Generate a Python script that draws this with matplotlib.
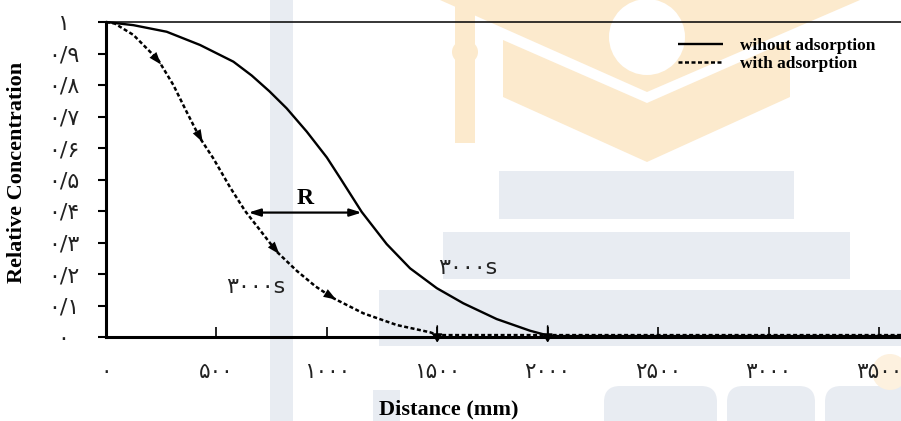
import numpy as np
import matplotlib
matplotlib.use('Agg')
import matplotlib.pyplot as plt
from matplotlib.patches import Polygon, Rectangle, Circle, Ellipse, FancyBboxPatch

# ---------------- data ----------------
x_without = [0, 124, 275, 426, 577, 660, 740, 818, 909, 1000, 1060, 1158, 1271, 1377,
             1498, 1618, 1769, 1920, 2010, 3600]
y_without = [1.0, 0.99, 0.969, 0.927, 0.874, 0.83, 0.78, 0.726, 0.652, 0.57, 0.505,
             0.397, 0.295, 0.218, 0.155, 0.107, 0.057, 0.02, 0.003, 0.003]

x_with = [0, 40, 124, 199, 237, 305, 365, 426, 486, 562, 630, 700, 773, 864, 950,
          1030, 1166, 1317, 1467, 1504, 3600]
y_with = [1.0, 0.995, 0.959, 0.906, 0.879, 0.8, 0.715, 0.631, 0.567, 0.475, 0.40,
          0.337, 0.271, 0.21, 0.16, 0.123, 0.075, 0.038, 0.015, 0.006, 0.006]

arrow_x = [237, 426, 773, 1030]          # direction arrows on the dashed curve
zero_points = [1500, 2000]               # where each front reaches zero
R_from, R_to, R_level = 645, 1158, 0.395 # retardation arrow

y_ticks = [0, 0.1, 0.2, 0.3, 0.4, 0.5, 0.6, 0.7, 0.8, 0.9, 1.0]
y_labels = ['۰', '۰/۱', '۰/۲', '۰/۳', '۰/۴', '۰/۵', '۰/۶', '۰/۷', '۰/۸', '۰/۹', '۱']
x_ticks = [0, 500, 1000, 1500, 2000, 2500, 3000, 3500]
x_labels = ['۰', '۵۰۰', '۱۰۰۰', '۱۵۰۰', '۲۰۰۰', '۲۵۰۰', '۳۰۰۰', '۳۵۰۰']

label_without = 'wihout adsorption'
label_with = 'with adsorption'
time_label = '۳۰۰۰s'

# ---------------- figure ----------------
plt.rcParams['font.family'] = ['DejaVu Sans']
W, H = 901, 421
fig = plt.figure(figsize=(W / 100, H / 100), dpi=100)
fig.patch.set_facecolor('white')

# background watermark (decorative, in pixel coordinates)
bg = fig.add_axes([0, 0, 1, 1])
bg.set_xlim(0, W)
bg.set_ylim(H, 0)
bg.axis('off')
bg.set_zorder(0)
gray = '#E8ECF2'
orange = '#FCEACD'
bg.add_patch(Rectangle((270, 0), 23, H, color=gray, lw=0))
bg.add_patch(Rectangle((499, 171), 295, 48, color=gray, lw=0))
bg.add_patch(Rectangle((443, 232), 407, 47, color=gray, lw=0))
bg.add_patch(Rectangle((379, 290), 530, 56, color=gray, lw=0))
bg.add_patch(Rectangle((373, 390), 27, 40, color=gray, lw=0))
for x0, w in [(604, 113), (727, 88), (825, 100)]:
    bg.add_patch(FancyBboxPatch((x0, 386), w, 60,
                                boxstyle='round,pad=0,rounding_size=16',
                                color=gray, lw=0))
bg.add_patch(Polygon([(440, 0), (860, 0), (647, 92)], closed=True, color=orange, lw=0))
bg.add_patch(Circle((647, 37), 38, color='white', lw=0))
bg.add_patch(Polygon([(503, 40), (647, 103), (790, 40), (790, 97), (647, 162), (503, 97)],
                     closed=True, color=orange, lw=0))
bg.add_patch(Rectangle((455, 0), 20, 143, color=orange, lw=0))
bg.add_patch(Ellipse((465, 52), 26, 24, color=orange, lw=0))
bg.add_patch(Circle((890, 372), 18, color='#FDF1DF', lw=0))

# main axes
ax = fig.add_axes([106 / W, (H - 337) / H, (W - 106) / W, 315 / H])
ax.set_zorder(1)
ax.patch.set_alpha(0)
ax.set_xlim(0, 3600)
ax.set_ylim(0, 1)

l1, = ax.plot(x_without, y_without, color='black', lw=1.7, solid_capstyle='butt',
              solid_joinstyle='round', clip_on=False, zorder=3)
l2, = ax.plot(x_with, y_with, color='black', lw=1.8, ls=(0, (1.6, 1.0)),
              clip_on=False, zorder=3)

# direction arrows along the dashed curve
for xa in arrow_x:
    x0 = xa - 30
    ax.annotate('', xy=(xa + 12, np.interp(xa + 12, x_with, y_with)),
                xytext=(x0, np.interp(x0, x_with, y_with)),
                arrowprops=dict(arrowstyle='-|>,head_length=0.9,head_width=0.32',
                                color='black', lw=0.01, shrinkA=0, shrinkB=0),
                zorder=4)

# markers where the fronts reach zero
for xz in zero_points:
    ax.annotate('', xy=(xz, -0.018), xytext=(xz, 0.035),
                arrowprops=dict(arrowstyle='-|>,head_length=0.5,head_width=0.3',
                                color='black', lw=1.2, shrinkA=0, shrinkB=0),
                annotation_clip=False, zorder=4)

# retardation arrow
ax.annotate('', xy=(R_from, R_level), xytext=(R_to, R_level),
            arrowprops=dict(arrowstyle='<|-|>,head_length=0.7,head_width=0.22',
                            color='black', lw=1.6, shrinkA=0, shrinkB=0), zorder=4)
ax.text(900, 0.44, 'R', fontsize=17, fontweight='bold', family='Liberation Serif',
        ha='center', va='center')

ax.text(676, 0.160, time_label, fontsize=16, ha='center', va='center', color='#222222')
ax.text(1640, 0.219, time_label, fontsize=16, ha='center', va='center', color='#222222')

# spines
ax.spines['right'].set_visible(False)
ax.spines['left'].set_linewidth(2.2)
ax.spines['bottom'].set_linewidth(2.2)
ax.spines['top'].set_linewidth(1.1)

ax.set_yticks(y_ticks)
ax.set_yticklabels(y_labels)
ax.set_xticks(x_ticks)
ax.set_xticklabels(x_labels)
ax.tick_params(axis='y', direction='out', length=6, width=1.5, pad=24.5,
               labelsize=16, labelcolor='#222222')
ax.tick_params(axis='x', direction='in', length=7, width=1.2, pad=18,
               labelsize=15.5, labelcolor='#222222')
for lbl in ax.get_yticklabels():
    lbl.set_horizontalalignment('center')

leg = ax.legend([l1, l2], [label_without, label_with], loc='upper left',
                bbox_to_anchor=(678 / W, 1 - 38 / H), bbox_transform=fig.transFigure,
                frameon=False, borderpad=0, borderaxespad=0, handlelength=2.6,
                handletextpad=1.0, labelspacing=0.12,
                prop=dict(family='Liberation Serif', weight='bold', size=12.5))

fig.text(17 / W, 1 - 172 / H, 'Relative Concentration', rotation=90, fontsize=16,
         fontweight='bold', family='Liberation Serif', ha='center', va='center')
fig.text(449 / W, 1 - 409 / H, 'Distance (mm)', fontsize=16,
         fontweight='bold', family='Liberation Serif', ha='center', va='center')

fig.savefig('out.png', dpi=100)
